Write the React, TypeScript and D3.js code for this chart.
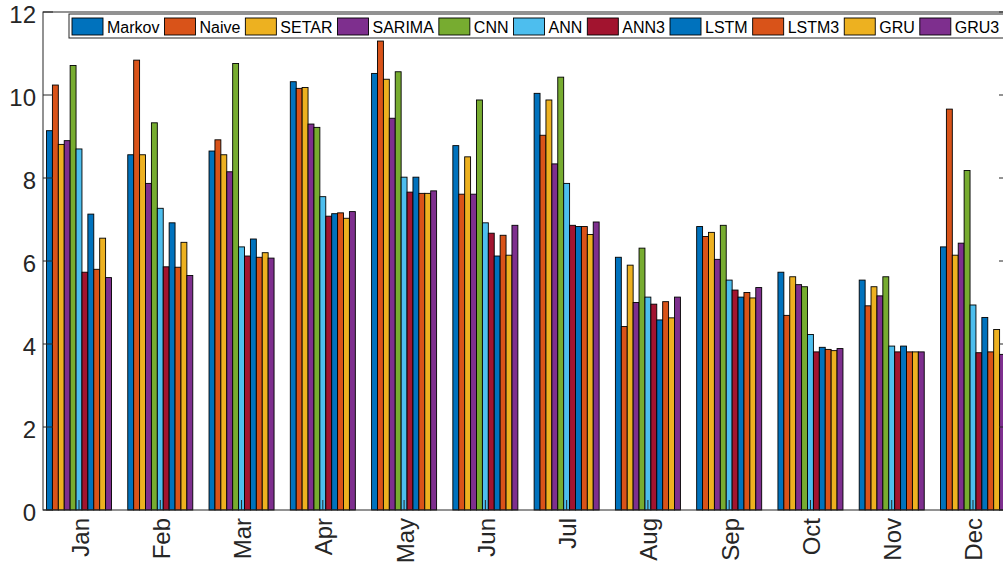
import React, { useRef, useEffect } from 'react';
import * as d3 from 'd3';

const months = ['Jan', 'Feb', 'Mar', 'Apr', 'May', 'Jun', 'Jul', 'Aug', 'Sep', 'Oct', 'Nov', 'Dec'];
const models = ['Markov', 'Naive', 'SETAR', 'SARIMA', 'CNN', 'ANN', 'ANN3', 'LSTM', 'LSTM3', 'GRU', 'GRU3'];
const colors = ['#0072BD', '#D95319', '#EDB120', '#7E2F8E', '#77AC30', '#4DBEEE', '#A2142F', '#0072BD', '#D95319', '#EDB120', '#7E2F8E'];

// values per model, Jan..Dec
const markov = [9.14, 8.56, 8.65, 10.32, 10.52, 8.78, 10.04, 6.09, 6.83, 5.73, 5.54, 6.34];
const naive = [10.24, 10.84, 8.92, 10.16, 11.3, 7.61, 9.03, 4.42, 6.59, 4.69, 4.92, 9.66];
const setar = [8.81, 8.56, 8.56, 10.18, 10.38, 8.51, 9.88, 5.9, 6.69, 5.62, 5.38, 6.14];
const sarima = [8.9, 7.87, 8.15, 9.3, 9.44, 7.61, 8.34, 5.0, 6.04, 5.43, 5.16, 6.43];
const cnn = [10.71, 9.33, 10.76, 9.22, 10.56, 9.88, 10.43, 6.31, 6.86, 5.38, 5.62, 8.18];
const ann = [8.7, 7.27, 6.34, 7.55, 8.02, 6.92, 7.87, 5.13, 5.54, 4.23, 3.95, 4.94];
const ann3 = [5.73, 5.86, 6.12, 7.08, 7.66, 6.67, 6.86, 4.96, 5.3, 3.81, 3.81, 3.79];
const lstm = [7.13, 6.92, 6.53, 7.14, 8.02, 6.12, 6.83, 4.58, 5.13, 3.92, 3.95, 4.64];
const lstm3 = [5.8, 5.85, 6.09, 7.16, 7.63, 6.62, 6.83, 5.02, 5.24, 3.87, 3.81, 3.81];
const gru = [6.55, 6.45, 6.2, 7.03, 7.63, 6.14, 6.64, 4.63, 5.11, 3.84, 3.81, 4.35];
const gru3 = [5.6, 5.65, 6.07, 7.19, 7.69, 6.86, 6.94, 5.13, 5.36, 3.89, 3.81, 3.75];

const series = [markov, naive, setar, sarima, cnn, ann, ann3, lstm, lstm3, gru, gru3];
const yTicks = [0, 2, 4, 6, 8, 10, 12];

const App = () => {
  const ref = useRef<SVGSVGElement>(null);

  useEffect(() => {
    const width = 1003;
    const height = 565;
    const left = 43, right = 1009, top = 12, bottom = 510;
    const axisColor = '#262626';
    const font = '"Liberation Sans", Arial, Helvetica, sans-serif';

    const x = d3.scaleLinear().domain([0.557, 12.443]).range([left, right]);
    const unit = x(2) - x(1);
    const inner = d3.scaleBand<number>()
      .domain(d3.range(models.length))
      .range([-0.4 * unit, 0.4 * unit]);
    const y = d3.scaleLinear().domain([0, 12]).range([bottom, top]);

    const svg = d3.select(ref.current);
    svg.selectAll('*').remove();
    svg.attr('width', width).attr('height', height);

    // bars
    const groups = svg.append('g')
      .selectAll('g')
      .data(series)
      .join('g')
      .attr('fill', (d, i) => colors[i]);
    groups.selectAll('rect')
      .data((d, i) => d.map((v, m) => ({ v, m, s: i })))
      .join('rect')
      .attr('x', d => x(d.m + 1) + inner(d.s)!)
      .attr('width', inner.bandwidth())
      .attr('y', d => y(d.v))
      .attr('height', d => y(0) - y(d.v))
      .attr('stroke', '#000')
      .attr('stroke-width', 0.9);

    // axes box
    const ax = svg.append('g').attr('stroke', axisColor).attr('stroke-width', 1).attr('fill', 'none');
    ax.append('rect')
      .attr('x', left).attr('y', top)
      .attr('width', right - left).attr('height', bottom - top);

    // y ticks (both sides, inward)
    yTicks.forEach(t => {
      ax.append('line').attr('x1', left).attr('x2', left + 10).attr('y1', y(t)).attr('y2', y(t));
      ax.append('line').attr('x1', right - 10).attr('x2', right).attr('y1', y(t)).attr('y2', y(t));
    });
    // x ticks
    months.forEach((m, i) => {
      ax.append('line').attr('x1', x(i + 1)).attr('x2', x(i + 1)).attr('y1', bottom).attr('y2', bottom - 10);
    });

    svg.append('g')
      .selectAll('text')
      .data(yTicks)
      .join('text')
      .attr('x', 36)
      .attr('y', d => y(d) + 2)
      .attr('text-anchor', 'end')
      .attr('dominant-baseline', 'central')
      .attr('font-family', font)
      .attr('font-size', 24)
      .attr('fill', axisColor)
      .text(d => d);

    svg.append('g')
      .selectAll('text')
      .data(months)
      .join('text')
      .attr('transform', (d, i) => `translate(${x(i + 1) + 1},518) rotate(-90)`)
      .attr('text-anchor', 'end')
      .attr('dominant-baseline', 'central')
      .attr('font-family', font)
      .attr('font-size', 24)
      .attr('fill', axisColor)
      .text(d => d);

    // legend
    const lg = svg.append('g');
    const box = lg.append('rect')
      .attr('x', 69).attr('y', 14)
      .attr('height', 24)
      .attr('fill', '#fff')
      .attr('stroke', axisColor)
      .attr('stroke-width', 1);
    let cx = 72;
    models.forEach((name, i) => {
      lg.append('rect')
        .attr('x', cx).attr('y', 18)
        .attr('width', 31).attr('height', 17)
        .attr('fill', colors[i])
        .attr('stroke', '#000')
        .attr('stroke-width', 0.9);
      const t = lg.append('text')
        .attr('x', cx + 35).attr('y', 27)
        .attr('dominant-baseline', 'central')
        .attr('font-family', font)
        .attr('font-size', 16)
        .attr('fill', '#000')
        .text(name);
      const w = (t.node() as SVGTextElement).getComputedTextLength();
      cx = cx + 35 + w + 5;
    });
    box.attr('width', cx + 4 - 69);
  }, []);

  return (
    <svg ref={ref} style={{ position: 'absolute', left: 0, top: 0, background: '#fff' }} />
  );
};

export default App;
